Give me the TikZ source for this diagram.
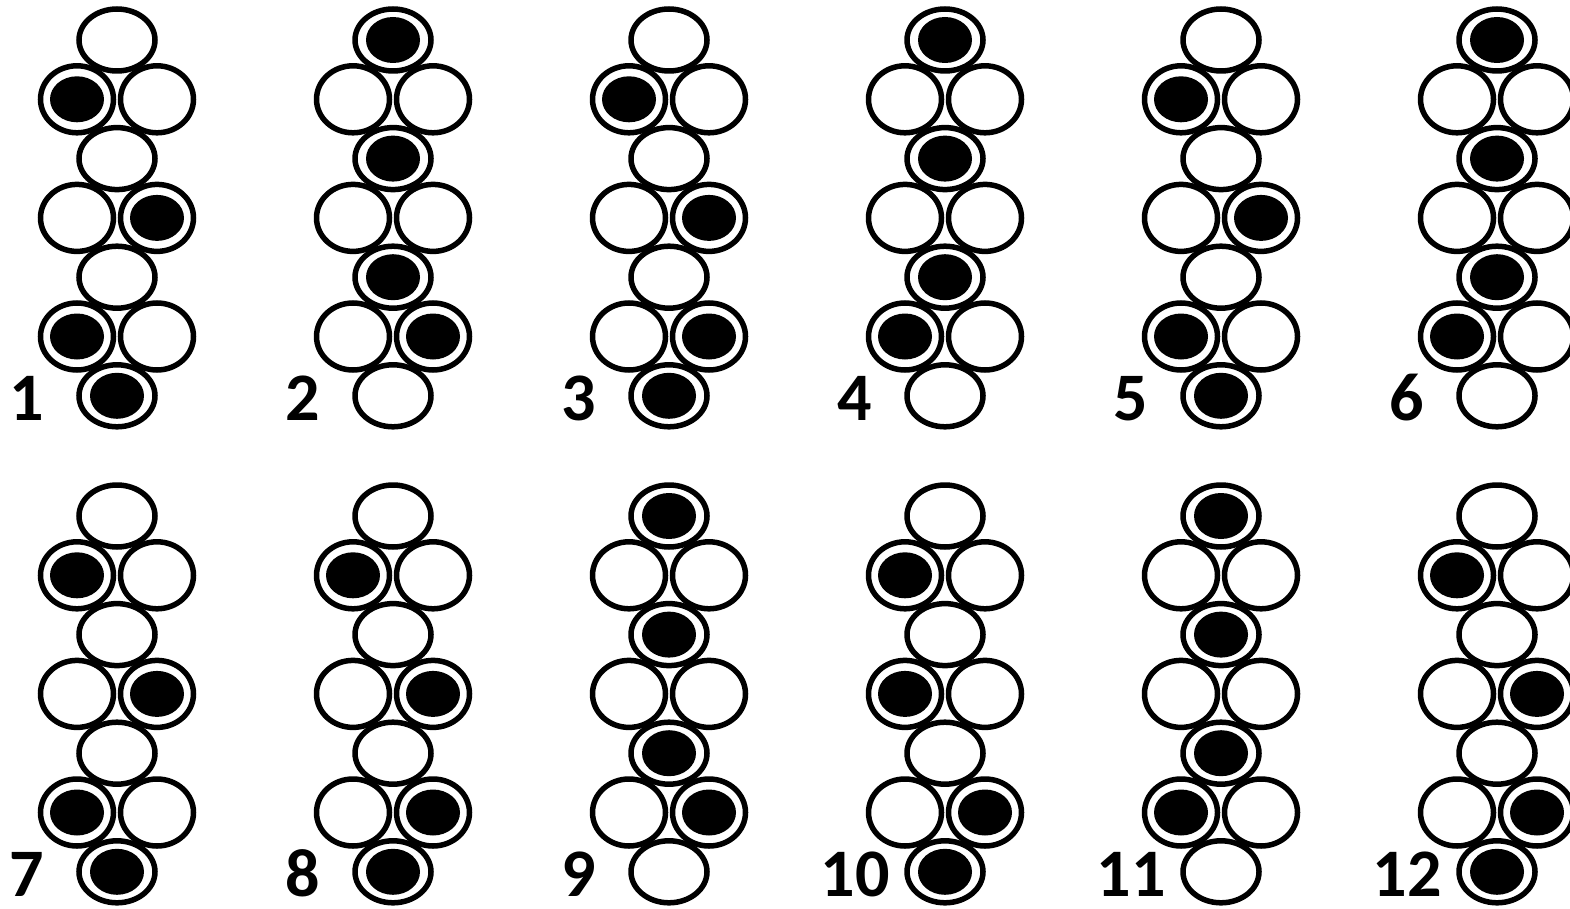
\documentclass[tikz,border=0pt]{standalone}
\usepackage{fontspec}
\setmainfont{Carlito}
\usetikzlibrary{shapes.geometric}

\begin{document}
\begin{tikzpicture}[x=1pt,y=-1pt,
  hole/.style={ellipse,draw,line width=5.5pt,inner sep=0pt,minimum width=76pt,minimum height=62pt},
  side/.style={hole,minimum width=73pt,minimum height=67pt},
  pad/.style={ellipse,fill,inner sep=0pt,minimum width=54pt,minimum height=46pt},
  num/.style={font=\fontsize{68}{70}\selectfont\bfseries,anchor=base,inner sep=0pt}]
\useasboundingbox (0,0) rectangle (1570,909);
\fill[white] (0,0) rectangle (1570,909);
\clip (0,0) rectangle (1570,909);
% one chart per fingering: number, column, row offset, closed holes
\foreach \n/\cx/\cy/\shut in {1/117/0/{l1,r2,l3,bot},2/393/0/{top,mid1,mid2,r3},
    3/669/0/{l1,r2,r3,bot},4/945/0/{top,mid1,mid2,l3},5/1221/0/{l1,r2,l3,bot},
    6/1497/0/{top,mid1,mid2,l3},7/117/476/{l1,r2,l3,bot},8/393/476/{l1,r2,r3,bot},
    9/669/476/{top,mid1,mid2,r3},10/945/476/{l1,l2,r3,bot},
    11/1221/476/{top,mid1,mid2,l3},12/1497/476/{l1,r2,r3,bot}}{
  \foreach \h/\dx/\dy/\st in {top/0/40/hole,l1/-40/99.3/side,r1/40/99.3/side,
      mid1/0/158.6/hole,l2/-40/217.9/side,r2/40/217.9/side,mid2/0/277.2/hole,
      l3/-40/336.5/side,r3/40/336.5/side,bot/0/395.8/hole}
    \node[\st] (f\n-\h) at (\cx+\dx,\cy+\dy) {};
  \foreach \h in \shut
    \node[pad] (p\n-\h) at (f\n-\h.center) {};
  \node[num] (n\n) at (\cx-90,\cy+420) {\n};
}
\end{tikzpicture}
\end{document}
